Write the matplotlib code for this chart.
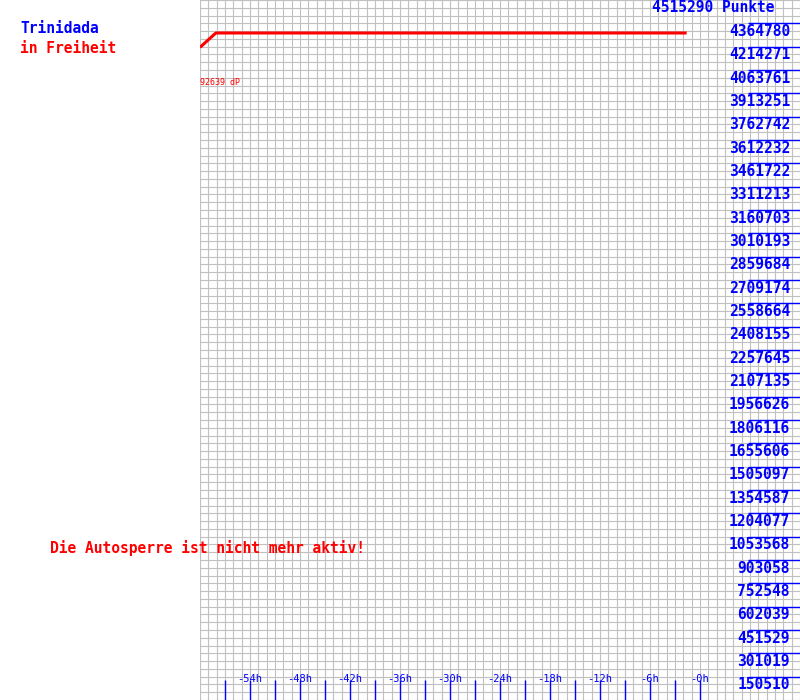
import numpy as np
import matplotlib
matplotlib.use("Agg")
import matplotlib.pyplot as plt
import matplotlib.transforms as mtransforms

# punkte history (hours relative to now)
hours = [-60.0, -58.1, -1.6]
punkte = [4209860, 4302500, 4302500]
total = 4515290
delta_label = "92639 dP"
player = "Trinidada"
status = "in Freiheit"
notice = "Die Autosperre ist nicht mehr aktiv!"

level_step = total / 30
levels = [level_step * k for k in range(1, 30)]
level_labels = [str(int(round(v))) for v in levels]
tick_hours = list(range(-57, 1, 3))
label_hours = list(range(-54, 1, 6))
hour_labels = ["-%dh" % abs(h) for h in label_hours]

mono = "DejaVu Sans Mono"
blue = "#0000ff"
red = "#ff0000"
fs = 10.5

fig = plt.figure(figsize=(8, 7), dpi=100)
ax = fig.add_axes([0.25, 0, 0.75, 1])
ax.set_xlim(-60, 12)
ax.set_ylim(0, total)

# fine grid: 1h wide, a third of a level high
ax.set_xticks(np.arange(-60, 13, 1))
ax.set_yticks(np.arange(0, 91) * total / 90)
ax.grid(True, color="#c0c0c0", lw=0.8)
ax.tick_params(length=0, labelbottom=False, labelleft=False)
for s in ax.spines.values():
    s.set_visible(False)
ax.set_axisbelow(True)

ax.plot(hours, punkte, color=red, lw=2.2, solid_capstyle="butt")

# right side scale
ax.hlines(levels, 5.76, 12, color=blue, lw=1)
for v, lab in zip(levels, level_labels):
    ax.annotate(lab, (10.8, v), xytext=(0, -9.1), textcoords="offset points",
                ha="right", va="baseline", color=blue, family=mono,
                fontsize=fs, fontweight="bold")

# bottom time ticks
trans = mtransforms.blended_transform_factory(ax.transData, ax.transAxes)
ax.vlines(tick_hours, 0, 20 / 700, color=blue, lw=1, transform=trans)
for h, lab in zip(label_hours, hour_labels):
    ax.text(h, 18 / 700, lab, transform=trans, ha="center", va="baseline",
            color=blue, family=mono, fontsize=7.5)


def px_text(x, y, s, color, size=fs, ha="left", weight="bold"):
    fig.text(x / 800, 1 - y / 700, s, color=color, family=mono,
             fontsize=size, va="baseline", ha=ha, fontweight=weight)


px_text(20, 33, player, blue)
px_text(20, 53, status, red)
px_text(200, 85, delta_label, red, size=6, weight="normal")
px_text(775, 11.5, "%d Punkte" % total, blue, ha="right")
px_text(50, 553, notice, red)

fig.savefig("out.png", dpi=100)
